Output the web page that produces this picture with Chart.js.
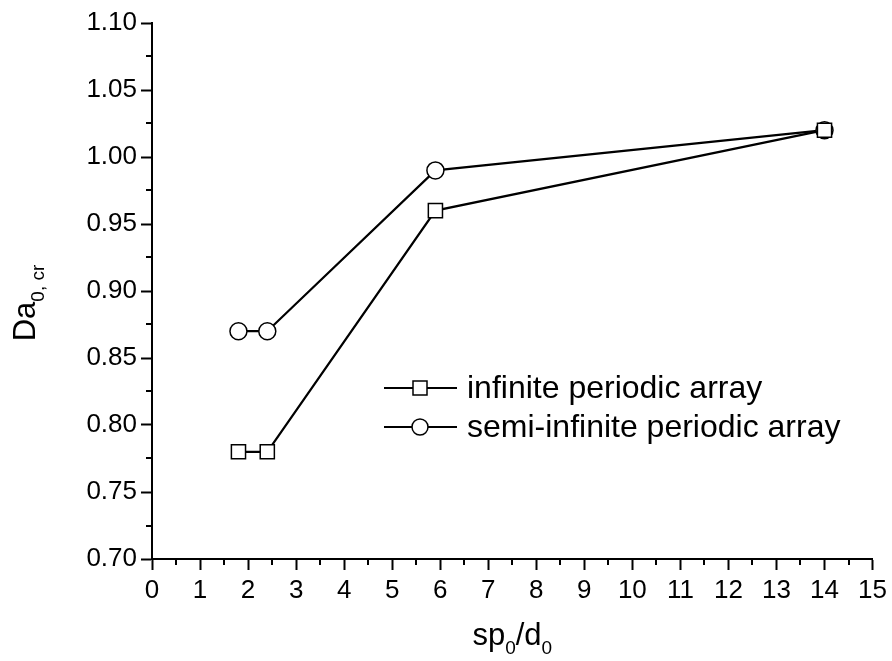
<!DOCTYPE html>
<html>
<head>
<meta charset="utf-8">
<script src="https://cdn.jsdelivr.net/npm/chart.js"></script>
<style>
  html, body { margin: 0; padding: 0; background: #fff; }
  #wrap { width: 892px; height: 661px; }
</style>
</head>
<body>
<div id="wrap"><canvas id="myChart" width="892" height="661"></canvas></div>
<script>
// data
const xValues = [1.8, 2.4, 5.9, 14];
const infiniteArray = [0.78, 0.78, 0.96, 1.02];
const semiInfiniteArray = [0.87, 0.87, 0.99, 1.02];
const seriesLabels = ['infinite periodic array', 'semi-infinite periodic array'];
const xMin = 0, xMax = 15, xStep = 1;
const yMin = 0.70, yMax = 1.10, yStep = 0.05;

const FONT = '"Liberation Sans", Arial, sans-serif';

function toPoints(ys) {
    return xValues.map((x, i) => ({ x: x, y: ys[i] }));
}

// minor ticks between the major ones
const minorTicks = {
    id: 'minorTicks',
    afterDraw(chart) {
        const c = chart.ctx, xs = chart.scales.x, ys = chart.scales.y;
        c.save();
        c.strokeStyle = '#000';
        c.lineWidth = 2;
        c.beginPath();
        for (let v = xMin + xStep / 2; v < xMax; v += xStep) {
            const px = Math.round(xs.getPixelForValue(v));
            c.moveTo(px, xs.top);
            c.lineTo(px, xs.top + 6);
        }
        for (let v = yMin + yStep / 2; v < yMax; v += yStep) {
            const py = Math.round(ys.getPixelForValue(v));
            c.moveTo(ys.right, py);
            c.lineTo(ys.right - 6, py);
        }
        c.stroke();
        c.restore();
    }
};

// axis titles with subscripts
function subText(c, parts, x, y) {
    let cx = x;
    parts.forEach(([t, sub]) => {
        c.font = (sub ? '19px ' : '31px ') + FONT;
        c.fillText(t, cx, sub ? y + 9 : y);
        cx += c.measureText(t).width;
    });
}
function measureSub(c, parts) {
    let w = 0;
    parts.forEach(([t, sub]) => {
        c.font = (sub ? '19px ' : '31px ') + FONT;
        w += c.measureText(t).width;
    });
    return w;
}
const axisTitles = {
    id: 'axisTitles',
    afterDraw(chart) {
        const c = chart.ctx, a = chart.chartArea;
        c.save();
        c.fillStyle = '#000';
        c.textBaseline = 'alphabetic';
        c.textAlign = 'left';
        const xt = [['sp', false], ['0', true], ['/d', false], ['0', true]];
        const wx = measureSub(c, xt);
        subText(c, xt, (a.left + a.right) / 2 - wx / 2, 645);
        const yt = [['Da', false], ['0, cr', true]];
        const wy = measureSub(c, yt);
        c.translate(35, (a.top + a.bottom) / 2 + 12);
        c.rotate(-Math.PI / 2);
        subText(c, yt, -wy / 2, 0);
        c.restore();
    }
};

// legend inside the plot: line - marker - line, then label
const insideLegend = {
    id: 'insideLegend',
    afterDraw(chart) {
        const c = chart.ctx;
        const rows = [388, 427];
        c.save();
        chart.data.datasets.forEach((ds, i) => {
            const y = rows[i];
            c.strokeStyle = '#000';
            c.lineWidth = 2;
            c.beginPath();
            c.moveTo(384, y);
            c.lineTo(457, y);
            c.stroke();
            c.fillStyle = '#fff';
            c.lineWidth = 1.5;
            c.beginPath();
            if (ds.pointStyle === 'rect') {
                c.rect(420 - 7, y - 7, 14, 14);
            } else {
                c.arc(420, y, 8, 0, Math.PI * 2);
            }
            c.fill();
            c.stroke();
            c.fillStyle = '#000';
            c.font = '32px ' + FONT;
            c.textBaseline = 'middle';
            c.textAlign = 'left';
            c.fillText(ds.label, 467, y + 1);
        });
        c.restore();
    }
};

const ctx = document.getElementById('myChart').getContext('2d');
const myChart = new Chart(ctx, {
    type: 'scatter',
    data: {
        datasets: [
            {
                label: seriesLabels[0],
                data: toPoints(infiniteArray),
                showLine: true,
                borderColor: '#000',
                borderWidth: 2.2,
                pointStyle: 'rect',
                pointRadius: 10,
                pointBorderWidth: 1.5,
                pointBorderColor: '#000',
                pointBackgroundColor: '#fff'
            },
            {
                label: seriesLabels[1],
                data: toPoints(semiInfiniteArray),
                showLine: true,
                borderColor: '#000',
                borderWidth: 2.2,
                pointStyle: 'circle',
                pointRadius: 8.5,
                pointBorderWidth: 1.5,
                pointBorderColor: '#000',
                pointBackgroundColor: '#fff'
            }
        ]
    },
    options: {
        responsive: false,
        animation: false,
        layout: { padding: { left: 0, right: 19, top: 23, bottom: 0 } },
        plugins: {
            legend: { display: false },
            tooltip: { enabled: false }
        },
        scales: {
            x: {
                type: 'linear',
                min: xMin,
                max: xMax,
                afterFit(s) { s.height = 102; },
                ticks: {
                    stepSize: xStep,
                    color: '#000',
                    padding: 5,
                    font: { family: FONT, size: 26 }
                },
                grid: {
                    drawOnChartArea: false,
                    color: '#000',
                    tickColor: '#000',
                    tickLength: 11,
                    tickWidth: 2
                },
                border: { display: true, color: '#000', width: 2 }
            },
            y: {
                type: 'linear',
                min: yMin,
                max: yMax,
                afterFit(s) { s.width = 152; },
                ticks: {
                    stepSize: yStep,
                    color: '#000',
                    padding: 4,
                    font: { family: FONT, size: 26 },
                    callback: v => v.toFixed(2)
                },
                grid: {
                    drawOnChartArea: false,
                    color: '#000',
                    tickColor: '#000',
                    tickLength: 11,
                    tickWidth: 2
                },
                border: { display: true, color: '#000', width: 2 }
            }
        }
    },
    plugins: [minorTicks, axisTitles, insideLegend]
});
</script>
</body>
</html>
